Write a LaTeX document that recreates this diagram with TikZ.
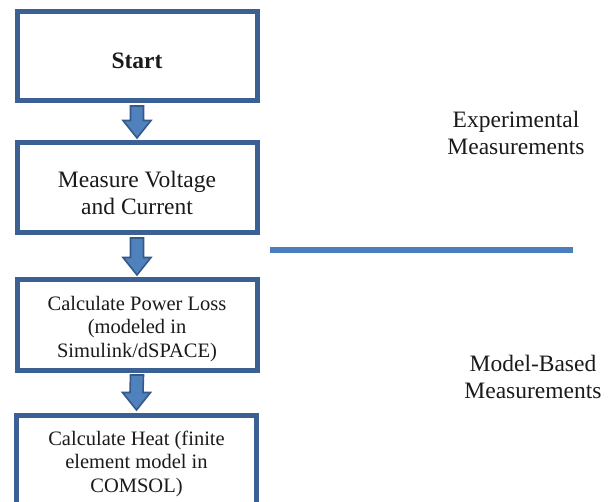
\documentclass[tikz,border=0pt]{standalone}
\usepackage{fontspec}
\setmainfont{Liberation Serif}
\usetikzlibrary{calc}
\definecolor{boxborder}{HTML}{3A6094}
\definecolor{arrowfill}{HTML}{4F81BD}
\definecolor{arrowedge}{HTML}{35598A}
\definecolor{sepline}{HTML}{4A7EBF}
\definecolor{txt}{HTML}{1A1A1A}
\tikzset{
  flowbox/.style={draw=boxborder, line width=5pt, fill=white, minimum width=240pt,
    minimum height=90pt, inner sep=0pt},
  boxtext/.style={align=center, text=txt, inner sep=0pt},
  bigtext/.style={font=\fontsize{23.5}{27}\selectfont},
  smalltext/.style={font=\fontsize{20.5}{23.5}\selectfont},
  labeltext/.style={align=center, text=txt, font=\fontsize{23.5}{26.5}\selectfont, inner sep=0pt},
  blockarrow/.style={fill=arrowfill, draw=arrowedge, line width=1.6pt, line join=miter},
}
\newcommand{\flowarrow}[2]{%
  \draw[blockarrow] ($(#1.south)+(-6.5,2.5)$) -- ($(#2.north)+(-6.5,-20)$) -- ++(-7.5,0)
    -- ($(#2.north)+(0,-2.5)$) -- ($(#2.north)+(14,-20)$) -- ++(-7.5,0)
    -- ($(#1.south)+(6.5,2.5)$) -- cycle;}
\begin{document}
\begin{tikzpicture}[x=1pt, y=-1pt]
\useasboundingbox (0,0) rectangle (615,502);
\clip (0,0) rectangle (615,502);
\node[flowbox, minimum height=89pt] (start) at (137,56.5) {};
\node[flowbox] (measure) at (137,188) {};
\node[flowbox] (power) at (137,325) {};
\node[flowbox] (heat) at (136.5,460) {};
\node[boxtext, bigtext] (startT) at ($(start.center)+(0,4.5)$) {\textbf{Start}};
\node[boxtext, bigtext] (measureT) at ($(measure.center)+(0,4.5)$) {Measure Voltage\\and Current};
\node[boxtext, smalltext] (powerT) at ($(power.center)+(0,4)$) {Calculate Power Loss\\(modeled in\\Simulink/dSPACE)};
\node[boxtext, smalltext] (heatT) at ($(heat.center)+(0,3.5)$) {Calculate Heat (finite\\element model in\\COMSOL)};
\flowarrow{start}{measure}
\flowarrow{measure}{power}
\flowarrow{power}{heat}
\coordinate (sepL) at (270,250);
\coordinate (sepR) at (573,250);
\draw[sepline, line width=6pt] (sepL) -- (sepR);
\node[labeltext] (exp) at (516,133) {Experimental\\Measurements};
\node[labeltext] (model) at (533,377) {Model-Based\\Measurements};
\end{tikzpicture}
\end{document}
